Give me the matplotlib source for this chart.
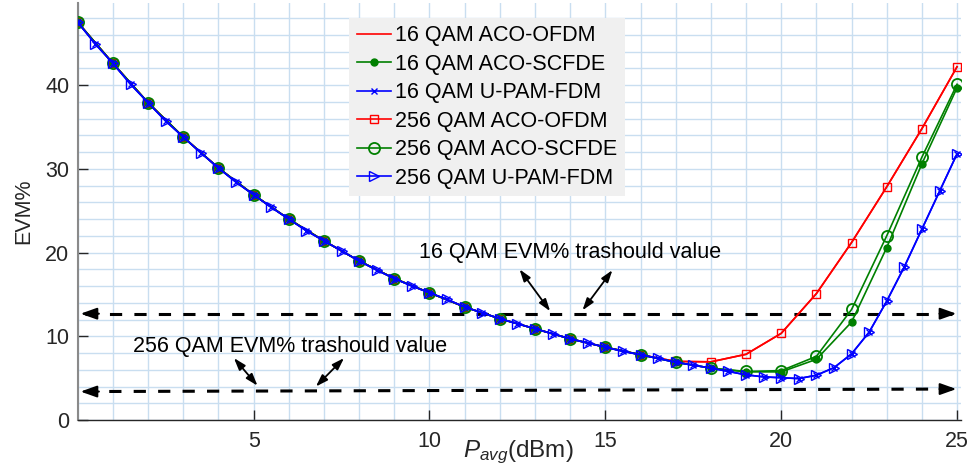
import numpy as np
import matplotlib
matplotlib.use("Agg")
import matplotlib.pyplot as plt
from matplotlib.ticker import MultipleLocator

plt.rcParams['font.family'] = ['Liberation Sans', 'DejaVu Sans']
plt.rcParams['mathtext.fontset'] = 'custom'
plt.rcParams['mathtext.it'] = 'Liberation Sans:italic'
plt.rcParams['mathtext.rm'] = 'Liberation Sans'

# ---------------- data ----------------
x_int = list(range(0, 26))
x_half = [i * 0.5 for i in range(0, 51)]

# shared part of the curves (integer x 0..16)
common_int = [47.5, 42.6, 37.9, 33.8, 30.1, 26.9, 24.0, 21.4, 19.0, 16.9,
              15.2, 13.5, 12.1, 10.9, 9.7, 8.7, 7.8]

ofdm_256 = common_int + [7.0, 6.95, 7.85, 10.35, 15.1, 21.2, 27.85, 34.8, 42.2]
ofdm_16 = common_int + [7.0, 6.95, 7.85, 10.35, 15.1, 21.2, 27.85, 34.8, 42.2]
scfde_16 = common_int + [6.9, 6.2, 5.75, 5.75, 7.25, 11.7, 20.6, 30.6, 39.7]
scfde_256 = common_int + [6.9, 6.2, 5.8, 5.9, 7.6, 13.2, 22.0, 31.4, 40.1]

upam_256 = [47.5, 44.9, 42.6, 40.1, 37.9, 35.7, 33.8, 31.9, 30.1, 28.4,
            26.9, 25.4, 24.0, 22.6, 21.4, 20.2, 19.0, 17.9, 16.9, 16.0,
            15.2, 14.4, 13.5, 12.8, 12.1, 11.5, 10.9, 10.3, 9.7, 9.2,
            8.7, 8.2, 7.8, 7.35, 6.9, 6.55, 6.2, 5.8, 5.4, 5.15,
            5.05, 4.95, 5.35, 6.25, 7.9, 10.5, 14.2, 18.3, 22.8, 27.3, 31.8]
upam_16 = list(upam_256)

labels = ['16 QAM ACO-OFDM', '16 QAM ACO-SCFDE', '16 QAM U-PAM-FDM',
          '256 QAM ACO-OFDM', '256 QAM ACO-SCFDE', '256 QAM U-PAM-FDM']

thr16 = 12.7
thr256_left, thr256_right = 3.4, 3.7

# ---------------- figure ----------------
fig = plt.figure(figsize=(9.72, 4.76), dpi=100)
ax = fig.add_axes([0.080, 0.1176, 0.909, 0.876])

red, green, blue = '#ff0000', '#008000', '#0000ff'
ax.plot(x_int, ofdm_16, color=red, lw=1.2, label=labels[0], zorder=3)
ax.plot(x_int, scfde_16, color=green, lw=1.2, marker='o', ms=5, label=labels[1], zorder=5)
ax.plot(x_half, upam_16, color=blue, lw=1.2, marker='x', ms=5, label=labels[2], zorder=6)
ax.plot(x_int, ofdm_256, color=red, lw=1.2, marker='s', ms=5.5, mfc='none', label=labels[3], zorder=3)
ax.plot(x_int, scfde_256, color=green, lw=1.2, marker='o', ms=8, mfc='none', mew=1.3,
        label=labels[4], zorder=4)
ax.plot(x_half, upam_256, color=blue, lw=1.2, marker='>', ms=7.5, mfc='none', label=labels[5], zorder=7)

ax.set_xlim(0, 25.12)
ax.set_ylim(0, 49.8)
ax.xaxis.set_major_locator(MultipleLocator(5))
ax.xaxis.set_minor_locator(MultipleLocator(1))
ax.yaxis.set_major_locator(MultipleLocator(10))
ax.yaxis.set_minor_locator(MultipleLocator(2))
ax.set_xticks([5, 10, 15, 20, 25])
ax.grid(True, which='both', color='#c9def0', lw=1.0)
ax.set_axisbelow(True)
ax.tick_params(which='major', direction='in', length=7, width=1, color='#262626',
               labelcolor='#262626', labelsize=15.5)
ax.tick_params(axis='y', which='major', pad=6)
ax.tick_params(axis='x', which='major', pad=8)
ax.tick_params(which='minor', length=0)
for s in ['top', 'right']:
    ax.spines[s].set_visible(False)
for s in ['left', 'bottom']:
    ax.spines[s].set_color('#262626')
    ax.spines[s].set_linewidth(1.0)
ax.spines['left'].set_color('#8a8a8a')
ax.spines['left'].set_linewidth(1.5)

ax.set_ylabel('EVM%', fontsize=15.5, color='#262626', labelpad=8)
ax.set_xlabel(r'$P_{avg}$(dBm)', fontsize=17.5, color='#262626')
ax.xaxis.set_label_coords(0.499, -0.045)

# threshold dashed lines
ax.plot([0.2, 24.85], [thr16, thr16], color='k', lw=2.2, ls=(0, (4, 4)))
ax.plot([0.2, 24.85], [thr256_left, thr256_right], color='k', lw=2.2, ls=(0, (4, 4)))
ahead = dict(arrowstyle='-|>,head_length=0.7,head_width=0.25', color='k', lw=1.5,
             mutation_scale=14, shrinkA=0, shrinkB=0)
ax.annotate('', xy=(0.08, thr16), xytext=(0.6, thr16), arrowprops=ahead)
ax.annotate('', xy=(24.98, thr16), xytext=(24.5, thr16), arrowprops=ahead)
ax.annotate('', xy=(0.08, thr256_left), xytext=(0.6, thr256_left), arrowprops=ahead)
ax.annotate('', xy=(24.98, thr256_right), xytext=(24.5, thr256_right), arrowprops=ahead)

# annotation texts and arrows
ax.text(14.0, 20.05, '16 QAM EVM% trashould value', fontsize=15.5,
        ha='center', va='center', color='k')
ax.text(6.05, 8.75, '256 QAM EVM% trashould value', fontsize=15.5,
        ha='center', va='center', color='k')
dbl = dict(arrowstyle='<|-|>,head_length=0.6,head_width=0.2', color='k', lw=1.3,
           mutation_scale=12, shrinkA=0, shrinkB=0)
ax.annotate('', xy=(12.56, 18.0), xytext=(13.43, 13.0), arrowprops=dbl)
ax.annotate('', xy=(15.2, 17.9), xytext=(14.35, 13.1), arrowprops=dbl)
ax.annotate('', xy=(4.44, 7.4), xytext=(5.11, 4.1), arrowprops=dbl)
ax.annotate('', xy=(7.57, 7.4), xytext=(6.77, 4.0), arrowprops=dbl)

leg = ax.legend(loc='upper left', bbox_to_anchor=(0.307, 0.965), fontsize=15.5,
                frameon=True, fancybox=False, facecolor='#f0f0f0', edgecolor='#f0f0f0',
                framealpha=1.0, handlelength=1.6, handletextpad=0.2,
                labelspacing=0.35, borderpad=0.35, borderaxespad=0)
leg.get_frame().set_linewidth(0)
leg.set_zorder(10)

fig.savefig('out.png', dpi=100)
